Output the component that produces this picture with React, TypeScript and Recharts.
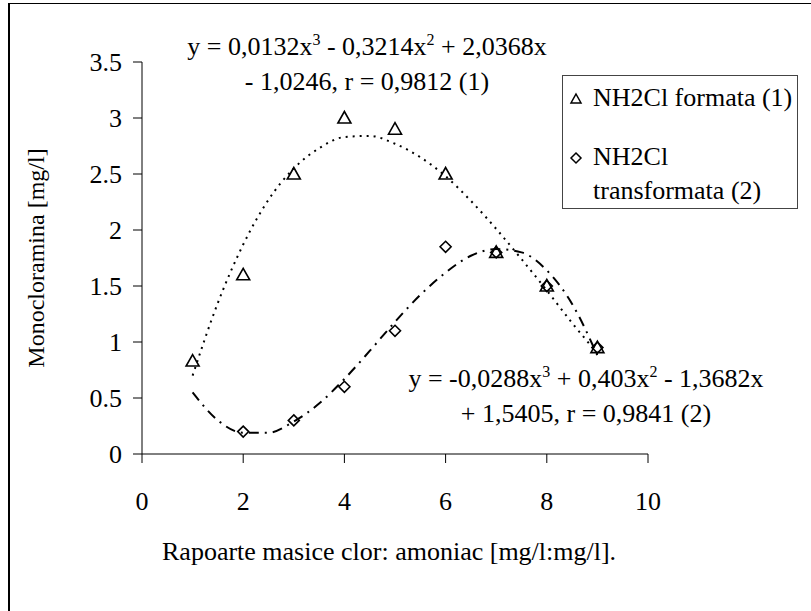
import React from 'react';
import { ComposedChart, Line, Scatter, XAxis, YAxis, Legend } from 'recharts';

// measured points
const formataX = [1, 2, 3, 4, 5, 6, 7, 8, 9];
const formataY = [0.83, 1.6, 2.5, 3.0, 2.9, 2.5, 1.8, 1.5, 0.95];
const transfX = [2, 3, 4, 5, 6, 7, 8, 9];
const transfY = [0.2, 0.3, 0.6, 1.1, 1.85, 1.8, 1.5, 0.95];

// trend curves, every 0.5 on x
const trendX = [1, 1.5, 2, 2.5, 3, 3.5, 4, 4.5, 5, 5.5, 6, 6.5, 7, 7.5, 8, 8.5, 9];
const trend1Y = [0.7, 1.35, 1.87, 2.27, 2.55, 2.73, 2.83, 2.84, 2.77, 2.65, 2.48, 2.26, 2.01, 1.74, 1.46, 1.17, 0.9];
const trend2Y = [0.55, 0.3, 0.19, 0.19, 0.29, 0.45, 0.67, 0.92, 1.18, 1.42, 1.62, 1.77, 1.83, 1.8, 1.64, 1.34, 0.88];

const xTicks = [0, 2, 4, 6, 8, 10];
const yTicks = [0, 0.5, 1, 1.5, 2, 2.5, 3, 3.5];

const formata = formataX.map((x, i) => ({ x, y: formataY[i] }));
const transf = transfX.map((x, i) => ({ x, y: transfY[i] }));
const trend1 = trendX.map((x, i) => ({ x, y: trend1Y[i] }));
const trend2 = trendX.map((x, i) => ({ x, y: trend2Y[i] }));

const FONT = '"Liberation Serif", "DejaVu Serif", serif';
const FS = 26;

const Triangle = ({ cx, cy }: any) => (
  <path d={`M${cx},${cy - 6.5} L${cx + 6.5},${cy + 5} L${cx - 6.5},${cy + 5} Z`} fill="none" stroke="#000" strokeWidth={1.6} />
);

const Diamond = ({ cx, cy }: any) => (
  <path d={`M${cx},${cy - 5.5} L${cx + 5.5},${cy} L${cx},${cy + 5.5} L${cx - 5.5},${cy} Z`} fill="none" stroke="#000" strokeWidth={1.6} />
);

const LegendBox = () => (
  <div style={{ width: 236, height: 134, border: '1px solid #444', background: '#fff', fontFamily: FONT, fontSize: FS, color: '#000', boxSizing: 'border-box', position: 'relative', lineHeight: '34px' }}>
    <svg width={20} height={20} style={{ position: 'absolute', left: 3, top: 13 }}>
      <path d="M10,5 L15,14 L5,14 Z" fill="none" stroke="#000" strokeWidth={1.5} />
    </svg>
    <div style={{ position: 'absolute', left: 30, top: 5, whiteSpace: 'nowrap' }}>NH2Cl formata (1)</div>
    <svg width={20} height={20} style={{ position: 'absolute', left: 3, top: 72 }}>
      <path d="M10,5 L15,10 L10,15 L5,10 Z" fill="none" stroke="#000" strokeWidth={1.5} />
    </svg>
    <div style={{ position: 'absolute', left: 30, top: 64, whiteSpace: 'nowrap' }}>
      NH2Cl<br />transformata (2)
    </div>
  </div>
);

const textStyle: React.CSSProperties = {
  position: 'absolute',
  fontFamily: FONT,
  fontSize: FS,
  color: '#000',
  whiteSpace: 'nowrap',
  textAlign: 'center',
  lineHeight: '35px',
};

const supStyle: React.CSSProperties = { fontSize: 16, verticalAlign: '10px', lineHeight: 0 };

export default function App() {
  return (
    <div style={{ position: 'absolute', left: 0, top: 0, width: 811, height: 611, overflow: 'hidden', background: '#fff' }}>
      <div style={{ position: 'absolute', left: 8, top: 3, width: 820, height: 620, borderLeft: '2px solid #000', borderTop: '1px solid #000' }} />
      <ComposedChart
        width={811}
        height={611}
        margin={{ top: 62, right: 163, bottom: 97, left: 82 }}
        style={{ position: 'absolute', left: 0, top: 0 }}
      >
        <XAxis
          dataKey="x"
          type="number"
          domain={[0, 10]}
          ticks={xTicks}
          height={60}
          tickSize={9}
          tickMargin={29}
          stroke="#000"
          tick={{ fill: '#000', fontSize: FS, fontFamily: FONT }}
          allowDuplicatedCategory={false}
        />
        <YAxis
          dataKey="y"
          type="number"
          domain={[0, 3.5]}
          ticks={yTicks}
          width={60}
          tickSize={9}
          tickMargin={11}
          stroke="#000"
          tick={{ fill: '#000', fontSize: FS, fontFamily: FONT }}
        />
        <Line data={trend1} dataKey="y" type="monotone" stroke="#000" strokeWidth={2} strokeDasharray="2 5" dot={false} isAnimationActive={false} legendType="none" />
        <Line data={trend2} dataKey="y" type="monotone" stroke="#000" strokeWidth={2} strokeDasharray="10 6 2 6" dot={false} isAnimationActive={false} legendType="none" />
        <Scatter data={formata} dataKey="y" shape={<Triangle />} isAnimationActive={false} />
        <Scatter data={transf} dataKey="y" shape={<Diamond />} isAnimationActive={false} />
        <Legend
          layout="vertical"
          align="center"
          verticalAlign="middle"
          content={() => <LegendBox />}
          wrapperStyle={{ position: 'absolute', left: 562, top: 75, width: 236, height: 134 }}
        />
      </ComposedChart>
      <div style={{ ...textStyle, left: 167, top: 29, width: 400 }}>
        y = 0,0132x<sup style={supStyle}>3</sup> - 0,3214x<sup style={supStyle}>2</sup> + 2,0368x
        <br />- 1,0246, r = 0,9812 (1)
      </div>
      <div style={{ ...textStyle, left: 386, top: 361, width: 400 }}>
        y = -0,0288x<sup style={supStyle}>3</sup> + 0,403x<sup style={supStyle}>2</sup> - 1,3682x
        <br />+ 1,5405, r = 0,9841 (2)
      </div>
      <div style={{ ...textStyle, left: 162, top: 534, textAlign: 'left' }}>
        Rapoarte masice clor: amoniac [mg/l:mg/l].
      </div>
      <div style={{ ...textStyle, fontSize: 24, left: 36, top: 258, width: 300, transform: 'translate(-50%, -50%) rotate(-90deg)' }}>
        Monocloramina [mg/l]
      </div>
    </div>
  );
}
